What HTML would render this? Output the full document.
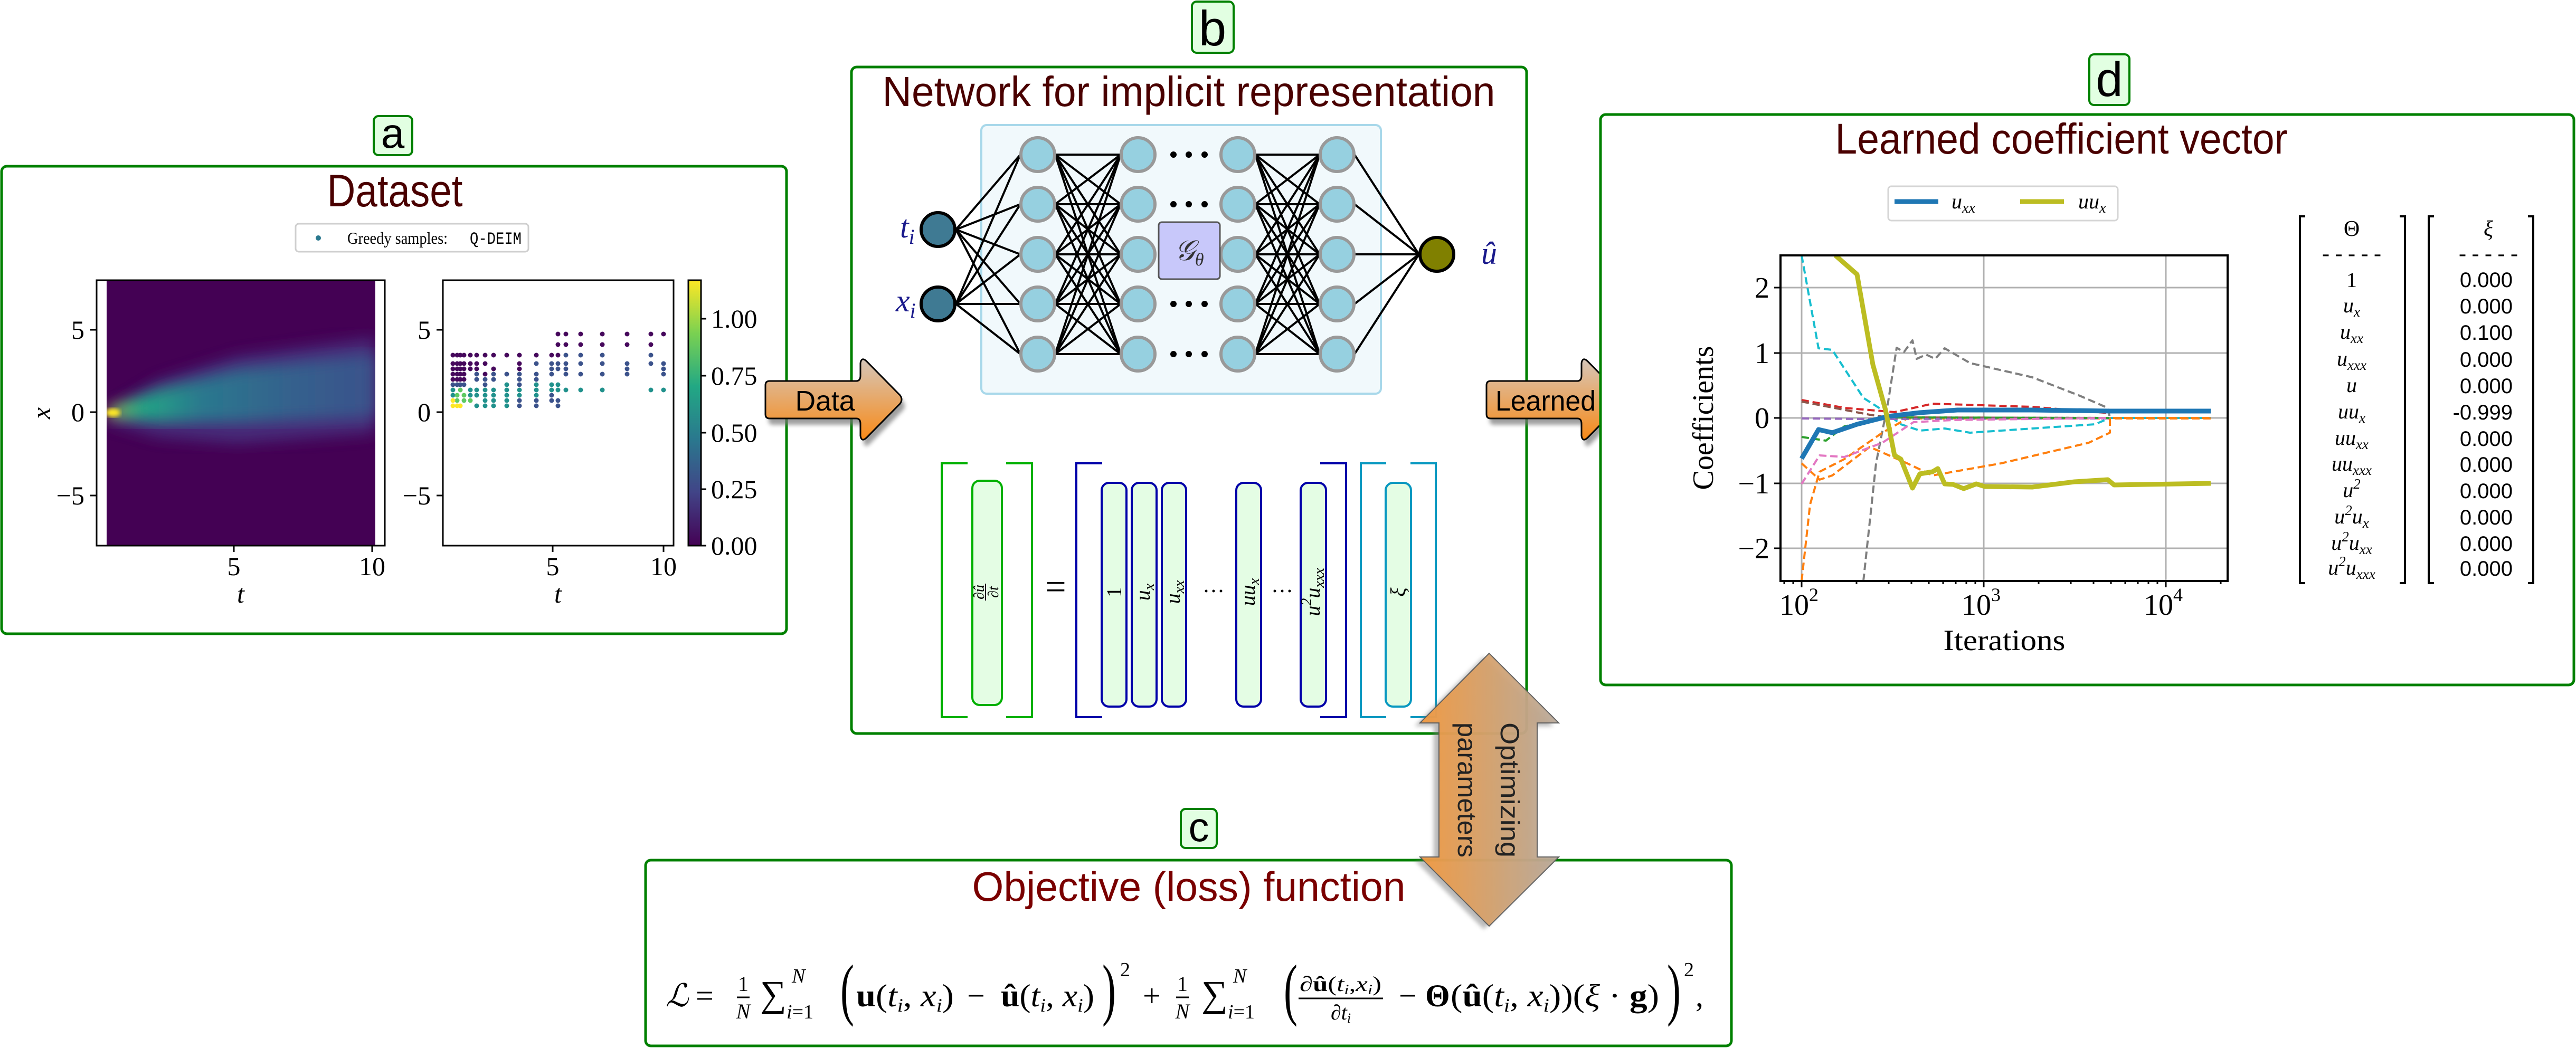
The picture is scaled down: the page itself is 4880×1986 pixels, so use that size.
<!DOCTYPE html>
<html><head><meta charset="utf-8"><style>html,body{margin:0;padding:0;background:#fff}svg{display:block}</style></head>
<body>
<svg xmlns="http://www.w3.org/2000/svg" width="4880" height="1986" viewBox="0 0 4880 1986">
<defs>
<linearGradient id="arr" x1="0" y1="0" x2="0" y2="1"><stop offset="0" stop-color="#d6c6b8"/><stop offset="1" stop-color="#f88a18"/></linearGradient>
<linearGradient id="darr" x1="0" y1="0" x2="1" y2="0"><stop offset="0" stop-color="#f39a40"/><stop offset="1" stop-color="#b8aa9c"/></linearGradient>
<linearGradient id="vir" x1="0" y1="1" x2="0" y2="0"><stop offset="0" stop-color="#440154"/><stop offset="0.2" stop-color="#414487"/><stop offset="0.4" stop-color="#2a788e"/><stop offset="0.6" stop-color="#22a884"/><stop offset="0.8" stop-color="#7ad151"/><stop offset="1" stop-color="#fde725"/></linearGradient>
<linearGradient id="plume" x1="0" y1="0" x2="1" y2="0"><stop offset="0" stop-color="#fde725"/><stop offset="0.03" stop-color="#7ad151"/><stop offset="0.12" stop-color="#22a884"/><stop offset="0.35" stop-color="#2a788e"/><stop offset="0.7" stop-color="#35608d"/><stop offset="1" stop-color="#3b528b"/></linearGradient>
<filter id="blur"><feGaussianBlur stdDeviation="14"/></filter>
<filter id="sh"><feGaussianBlur stdDeviation="4"/></filter>
<clipPath id="hm"><rect x="202" y="531" width="509" height="503"/></clipPath>
<clipPath id="dp"><rect x="3373" y="484" width="847" height="617"/></clipPath>
</defs>

<!-- ===== Panel a ===== -->
<rect x="3" y="315" width="1487" height="886" rx="10" fill="#fff" stroke="#008000" stroke-width="5"/>
<rect x="708" y="220" width="73" height="74" rx="9" fill="#e2ffe2" stroke="#008000" stroke-width="4"/>
<text x="744" y="280" font-family="Liberation Sans, sans-serif" font-size="80" text-anchor="middle">a</text>
<text x="748" y="391" font-family="Liberation Sans, sans-serif" font-size="86" fill="#4a0000" textLength="257" lengthAdjust="spacingAndGlyphs" text-anchor="middle">Dataset</text>
<rect x="560" y="424" width="441" height="53" rx="6" fill="#fff" stroke="#cfcfcf" stroke-width="3"/>
<circle cx="603" cy="451" r="5" fill="#2a788e"/>
<text x="658" y="462" font-family="Liberation Serif, serif" font-size="32" textLength="190" lengthAdjust="spacingAndGlyphs">Greedy samples:</text>
<text x="890" y="462" font-family="Liberation Mono, monospace" font-size="32" textLength="98" lengthAdjust="spacingAndGlyphs">Q-DEIM</text>

<rect x="183" y="531" width="546" height="503" fill="#fff"/>
<rect x="202" y="531" width="509" height="503" fill="#440154"/>
<g clip-path="url(#hm)">
<path d="M204 781 L300 722 L450 675 L711 640 L711 820 L450 840 L300 828 L204 800 Z" fill="#46327e" filter="url(#blur)" opacity="0.9"/>
<path d="M204 776 L300 738 L450 700 L711 670 L711 790 L450 800 L300 800 L204 788 Z" fill="url(#plume)" filter="url(#blur)"/>
<ellipse cx="214" cy="782" rx="14" ry="8" fill="#fde725" filter="url(#sh)"/>
</g>
<rect x="183" y="531" width="546" height="503" fill="none" stroke="#000" stroke-width="3"/>
<g stroke="#000" stroke-width="3"><path d="M171 625H183M171 781H183M171 939H183M443 1034V1046M705 1034V1046"/></g>
<g font-family="Liberation Serif, serif" font-size="50">
<text x="160" y="642" text-anchor="end">5</text><text x="160" y="798" text-anchor="end">0</text><text x="160" y="956" text-anchor="end">−5</text>
<text x="443" y="1090" text-anchor="middle">5</text><text x="705" y="1090" text-anchor="middle">10</text>
<text x="456" y="1142" text-anchor="middle" font-style="italic">t</text>
<text x="95" y="783" text-anchor="middle" font-style="italic" transform="rotate(-90 95 783)">x</text>
</g>

<rect x="839" y="531" width="437" height="503" fill="#fff" stroke="#000" stroke-width="3"/>
<g fill="none" stroke-linecap="round" stroke-width="9">
<path stroke="#46085c" d="M858 673h0M858 689h0M858 699h0M858 709h0M858 719h0M866 673h0M866 689h0M866 699h0M866 709h0M866 719h0M872 673h0M872 689h0M872 699h0M872 709h0M872 719h0M879 673h0M879 689h0M879 699h0M879 709h0M879 719h0M891 673h0M891 689h0M891 699h0M903 673h0M903 689h0M903 699h0M919 673h0M919 689h0M919 709h0M935 673h0M935 699h0M960 673h0M984 673h0M984 689h0M984 699h0M1016 673h0M1045 673h0M1057 633h0M1057 653h0M1057 673h0M1072 633h0M1072 653h0M1100 633h0M1100 653h0M1141 633h0M1141 653h0M1188 633h0M1188 653h0M1233 633h0M1233 653h0M1257 633h0"/>
<path stroke="#3b528b" d="M858 729h0M866 729h0M872 729h0M879 729h0M903 709h0M903 719h0M919 719h0M919 729h0M935 709h0M935 719h0M960 709h0M984 709h0M984 719h0M984 729h0M1016 689h0M1016 709h0M1016 719h0M1045 689h0M1045 699h0M1045 709h0M1057 689h0M1057 699h0M1072 673h0M1072 689h0M1072 699h0M1072 709h0M1100 673h0M1100 689h0M1100 709h0M1141 673h0M1141 689h0M1141 709h0M1188 689h0M1188 699h0M1188 709h0M1233 673h0M1233 689h0M1257 689h0M1257 699h0M1257 709h0M1016 759h0M1016 769h0M984 759h0M984 769h0M1057 759h0M1057 769h0M1045 749h0M1045 759h0"/>
<path stroke="#21918c" d="M891 739h0M891 749h0M903 739h0M903 749h0M919 739h0M919 749h0M919 759h0M935 739h0M935 749h0M935 759h0M960 729h0M960 739h0M960 749h0M984 739h0M984 749h0M1016 729h0M1016 739h0M1016 749h0M1045 729h0M1045 739h0M1057 729h0M1057 739h0M1072 739h0M1100 739h0M1141 739h0M1233 739h0M1257 739h0M960 759h0M960 769h0M935 769h0M919 769h0M903 769h0M858 739h0M858 749h0"/>
<path stroke="#5ec962" d="M866 749h0M866 759h0M872 739h0M879 749h0M891 759h0M879 759h0"/>
<path stroke="#fde725" d="M858 759h0M858 769h0M866 769h0M872 769h0"/>
</g>
<g stroke="#000" stroke-width="3"><path d="M827 625H839M827 781H839M827 939H839M1047 1034V1046M1257 1034V1046"/></g>
<g font-family="Liberation Serif, serif" font-size="50">
<text x="816" y="642" text-anchor="end">5</text><text x="816" y="798" text-anchor="end">0</text><text x="816" y="956" text-anchor="end">−5</text>
<text x="1047" y="1090" text-anchor="middle">5</text><text x="1257" y="1090" text-anchor="middle">10</text>
<text x="1057" y="1142" text-anchor="middle" font-style="italic">t</text>
</g>
<rect x="1304" y="531" width="24" height="503" fill="url(#vir)" stroke="#000" stroke-width="3"/>
<g stroke="#000" stroke-width="3"><path d="M1328 604h10M1328 712h10M1328 820h10M1328 927h10M1328 1034h10"/></g>
<g font-family="Liberation Serif, serif" font-size="50">
<text x="1347" y="621">1.00</text><text x="1347" y="729">0.75</text><text x="1347" y="837">0.50</text><text x="1347" y="944">0.25</text><text x="1347" y="1051">0.00</text>
</g>

<!-- ===== Panel b ===== -->
<rect x="1613" y="127" width="1279" height="1263" rx="10" fill="#fff" stroke="#008000" stroke-width="5"/>
<rect x="2258" y="3" width="79" height="97" rx="9" fill="#e2ffe2" stroke="#008000" stroke-width="4"/>
<text x="2297" y="86" font-family="Liberation Sans, sans-serif" font-size="94" text-anchor="middle">b</text>
<text x="2252" y="201" font-family="Liberation Sans, sans-serif" font-size="80" fill="#4a0000" textLength="1161" lengthAdjust="spacingAndGlyphs" text-anchor="middle">Network for implicit representation</text>
<rect x="1859" y="237" width="757" height="509" rx="10" fill="#f1f9fc" stroke="#a8d8ea" stroke-width="4"/>
<g stroke="#000" stroke-width="4" fill="none">
<path d="M1811 435L1933 293M1811 435L1933 387M1811 435L1933 482M1811 435L1933 576M1811 435L1933 671M1811 576L1933 293M1811 576L1933 387M1811 576L1933 482M1811 576L1933 576M1811 576L1933 671"/>
<path d="M1999 293L2123 293M1999 293L2123 387M1999 293L2123 482M1999 293L2123 576M1999 293L2123 671M1999 387L2123 293M1999 387L2123 387M1999 387L2123 482M1999 387L2123 576M1999 387L2123 671M1999 482L2123 293M1999 482L2123 387M1999 482L2123 482M1999 482L2123 576M1999 482L2123 671M1999 576L2123 293M1999 576L2123 387M1999 576L2123 482M1999 576L2123 576M1999 576L2123 671M1999 671L2123 293M1999 671L2123 387M1999 671L2123 482M1999 671L2123 576M1999 671L2123 671"/>
<path d="M2378 293L2500 293M2378 293L2500 387M2378 293L2500 482M2378 293L2500 576M2378 293L2500 671M2378 387L2500 293M2378 387L2500 387M2378 387L2500 482M2378 387L2500 576M2378 387L2500 671M2378 482L2500 293M2378 482L2500 387M2378 482L2500 482M2378 482L2500 576M2378 482L2500 671M2378 576L2500 293M2378 576L2500 387M2378 576L2500 482M2378 576L2500 576M2378 576L2500 671M2378 671L2500 293M2378 671L2500 387M2378 671L2500 482M2378 671L2500 576M2378 671L2500 671"/>
<path d="M2566 293L2688 482M2566 387L2688 482M2566 482L2688 482M2566 576L2688 482M2566 671L2688 482"/>
</g>
<g fill="#96d0e0" stroke="#999" stroke-width="6">
<circle cx="1966" cy="293" r="32"/><circle cx="1966" cy="387" r="32"/><circle cx="1966" cy="482" r="32"/><circle cx="1966" cy="576" r="32"/><circle cx="1966" cy="671" r="32"/>
<circle cx="2156" cy="293" r="32"/><circle cx="2156" cy="387" r="32"/><circle cx="2156" cy="482" r="32"/><circle cx="2156" cy="576" r="32"/><circle cx="2156" cy="671" r="32"/>
<circle cx="2345" cy="293" r="32"/><circle cx="2345" cy="387" r="32"/><circle cx="2345" cy="482" r="32"/><circle cx="2345" cy="576" r="32"/><circle cx="2345" cy="671" r="32"/>
<circle cx="2533" cy="293" r="32"/><circle cx="2533" cy="387" r="32"/><circle cx="2533" cy="482" r="32"/><circle cx="2533" cy="576" r="32"/><circle cx="2533" cy="671" r="32"/>
</g>
<g fill="#000"><circle cx="2223" cy="293" r="6"/><circle cx="2252" cy="293" r="6"/><circle cx="2282" cy="293" r="6"/><circle cx="2223" cy="387" r="6"/><circle cx="2252" cy="387" r="6"/><circle cx="2282" cy="387" r="6"/><circle cx="2223" cy="576" r="6"/><circle cx="2252" cy="576" r="6"/><circle cx="2282" cy="576" r="6"/><circle cx="2223" cy="671" r="6"/><circle cx="2252" cy="671" r="6"/><circle cx="2282" cy="671" r="6"/></g>
<rect x="2195" y="421" width="116" height="108" rx="6" fill="#c8c8fa" stroke="#555" stroke-width="3"/>
<text x="2253" y="493" font-family="Liberation Serif, serif" font-style="italic" font-size="54" text-anchor="middle" fill="#333">𝒢<tspan font-size="34" dy="10">θ</tspan></text>
<circle cx="1777" cy="435" r="32" fill="#3f7a93" stroke="#000" stroke-width="6"/>
<circle cx="1777" cy="576" r="32" fill="#3f7a93" stroke="#000" stroke-width="6"/>
<circle cx="2722" cy="482" r="32" fill="#808000" stroke="#000" stroke-width="6"/>
<g font-family="Liberation Serif, serif" font-style="italic" font-size="60" fill="#1a1a8c">
<text x="1705" y="450">t<tspan font-size="40" dy="12">i</tspan></text>
<text x="1697" y="590">x<tspan font-size="40" dy="12">i</tspan></text>
<text x="2806" y="500">û</text>
</g>
<g fill="none" stroke-width="4">
<path stroke="#00b000" d="M1833 878H1784V1359H1833M1906 878H1955V1359H1906"/>
<rect x="1842" y="911" width="56" height="425" rx="14" fill="#e4fde4" stroke="#00b000"/>
<path stroke="#0000a8" d="M2088 878H2039V1359H2088M2501 878H2550V1359H2501"/>
<rect x="2087" y="915" width="47" height="424" rx="14" fill="#e4fde4" stroke="#0000a8"/>
<rect x="2144" y="915" width="47" height="424" rx="14" fill="#e4fde4" stroke="#0000a8"/>
<rect x="2201" y="915" width="46" height="424" rx="14" fill="#e4fde4" stroke="#0000a8"/>
<rect x="2342" y="915" width="47" height="424" rx="14" fill="#e4fde4" stroke="#0000a8"/>
<rect x="2464" y="915" width="48" height="424" rx="14" fill="#e4fde4" stroke="#0000a8"/>
<path stroke="#0898c0" d="M2626 878H2578V1359H2626M2672 878H2720V1359H2672"/>
<rect x="2625" y="915" width="48" height="424" rx="14" fill="#e4fde4" stroke="#0898c0"/>
</g>
<g font-family="Liberation Serif, serif" font-size="40" font-style="italic" text-anchor="middle">
<text transform="translate(1864 1122) rotate(-90)" font-size="28">∂û</text>
<line x1="1867" y1="1106" x2="1867" y2="1138" stroke="#000" stroke-width="2"/>
<text transform="translate(1891 1122) rotate(-90)" font-size="28">∂t</text>
<text transform="translate(2124 1122) rotate(-90)" font-style="normal">1</text>
<text transform="translate(2178 1122) rotate(-90)">u<tspan font-size="28" dy="8">x</tspan></text>
<text transform="translate(2235 1122) rotate(-90)">u<tspan font-size="28" dy="8">xx</tspan></text>
<text transform="translate(2377 1122) rotate(-90)">uu<tspan font-size="28" dy="8">x</tspan></text>
<text transform="translate(2500 1122) rotate(-90)">u<tspan font-size="28" dy="-16">2</tspan><tspan dy="16">u</tspan><tspan font-size="28" dy="8">xxx</tspan></text>
<text transform="translate(2662 1122) rotate(-90)">ξ</text>
</g>
<text x="2000" y="1135" font-family="Liberation Serif, serif" font-size="70" text-anchor="middle">=</text>
<g fill="#000"><circle cx="2285" cy="1120" r="2.5"/><circle cx="2299" cy="1120" r="2.5"/><circle cx="2313" cy="1120" r="2.5"/><circle cx="2415" cy="1120" r="2.5"/><circle cx="2429" cy="1120" r="2.5"/><circle cx="2443" cy="1120" r="2.5"/></g>

<g>
<path transform="translate(6 12)" fill="#777" opacity="0.7" filter="url(#sh)" d="M1458 722L1622 722Q1630 722 1630 712L1630 688Q1632 676 1641 684L1705 749Q1711 757 1705 765L1641 830Q1632 838 1630 826L1630 803Q1630 793 1622 793L1458 793Q1450 793 1450 785L1450 730Q1450 722 1458 722Z"/>
<path fill="url(#arr)" stroke="#000" stroke-width="3" d="M1458 722L1622 722Q1630 722 1630 712L1630 688Q1632 676 1641 684L1705 749Q1711 757 1705 765L1641 830Q1632 838 1630 826L1630 803Q1630 793 1622 793L1458 793Q1450 793 1450 785L1450 730Q1450 722 1458 722Z"/>
</g>
<text x="1563" y="778" font-family="Liberation Sans, sans-serif" font-size="54" text-anchor="middle" textLength="113" lengthAdjust="spacingAndGlyphs">Data</text>
<g transform="translate(1366 0)">
<path transform="translate(6 12)" fill="#777" opacity="0.7" filter="url(#sh)" d="M1458 722L1622 722Q1630 722 1630 712L1630 688Q1632 676 1641 684L1705 749Q1711 757 1705 765L1641 830Q1632 838 1630 826L1630 803Q1630 793 1622 793L1458 793Q1450 793 1450 785L1450 730Q1450 722 1458 722Z"/>
<path fill="url(#arr)" stroke="#000" stroke-width="3" d="M1458 722L1622 722Q1630 722 1630 712L1630 688Q1632 676 1641 684L1705 749Q1711 757 1705 765L1641 830Q1632 838 1630 826L1630 803Q1630 793 1622 793L1458 793Q1450 793 1450 785L1450 730Q1450 722 1458 722Z"/>
</g>
<text x="2833" y="778" font-family="Liberation Sans, sans-serif" font-size="54" textLength="190" lengthAdjust="spacingAndGlyphs">Learned</text>

<!-- ===== Panel d ===== -->
<rect x="3032" y="217" width="1844" height="1081" rx="10" fill="#fff" stroke="#008000" stroke-width="5"/>
<rect x="3958" y="103" width="76" height="96" rx="9" fill="#e2ffe2" stroke="#008000" stroke-width="4"/>
<text x="3996" y="182" font-family="Liberation Sans, sans-serif" font-size="92" text-anchor="middle">d</text>
<text x="3905" y="291" font-family="Liberation Sans, sans-serif" font-size="82" fill="#4a0000" textLength="857" lengthAdjust="spacingAndGlyphs" text-anchor="middle">Learned coefficient vector</text>
<rect x="3577" y="353" width="435" height="65" rx="6" fill="#fff" stroke="#d5d5d5" stroke-width="3"/>
<line x1="3589" y1="382" x2="3672" y2="382" stroke="#1f77b4" stroke-width="9"/>
<line x1="3827" y1="382" x2="3910" y2="382" stroke="#bcbd22" stroke-width="9"/>
<g font-family="Liberation Serif, serif" font-style="italic" font-size="40">
<text x="3697" y="395">u<tspan font-size="28" dy="8">xx</tspan></text>
<text x="3937" y="395">uu<tspan font-size="28" dy="8">x</tspan></text>
</g>
<g stroke="#b0b0b0" stroke-width="3"><path d="M3373 545H4220M3373 669H4220M3373 792H4220M3373 916H4220M3373 1039H4220M3413 484V1101M3758 484V1101M4103 484V1101"/></g>
<g clip-path="url(#dp)" fill="none" stroke-linejoin="round">
<g stroke-width="4" stroke-dasharray="14 7">
<polyline stroke="#7f7f7f" points="3530,1101 3554,878 3577,761 3593,659 3607,667 3623,645 3631,680 3649,672 3666,680 3684,660 3732,688 3850,715 3940,750 3993,773 3997,792 4188,792"/>
<polyline stroke="#17becf" points="3413,484 3445,660 3471,663 3530,754 3566,777 3601,804 3637,816 3684,812 3732,820 3969,804 3997,792 4188,792"/>
<polyline stroke="#ff7f0e" points="3413,1101 3429,956 3447,894 3494,870 3566,820 3613,793 3997,793 4188,793"/>
<polyline stroke="#ff7f0e" points="3413,878 3447,909 3471,901 3542,847 3613,878 3661,901 3791,878 3957,839 3997,820 3997,792 4188,792"/>
<polyline stroke="#d62728" points="3413,758 3494,773 3589,781 3661,765 3850,771 3997,783"/>
<polyline stroke="#8c564b" points="3413,761 3542,786 3577,791 3997,792"/>
<polyline stroke="#9467bd" points="3413,793 3530,794 3997,793"/>
<polyline stroke="#2ca02c" points="3413,828 3459,835 3494,808 3577,791 3997,792"/>
<polyline stroke="#e377c2" points="3413,917 3447,863 3494,866 3566,839 3625,800 3700,796 3997,792"/>
</g>
<polyline stroke="#1f77b4" stroke-width="9" points="3413,869 3445,814 3471,820 3518,804 3577,789 3637,782 3708,777 3850,777 3997,779 4188,779"/>
<polyline stroke="#bcbd22" stroke-width="9" points="3477,484 3518,520 3548,691 3572,777 3589,863 3601,870 3623,925 3637,898 3661,894 3671,888 3684,917 3700,918 3720,926 3744,917 3760,922 3850,923 3930,913 3993,909 4005,919 4188,916"/>
</g>
<rect x="3373" y="484" width="847" height="617" fill="none" stroke="#000" stroke-width="4"/>
<g stroke="#000" stroke-width="3"><path d="M3361 545h12M3361 669h12M3361 792h12M3361 916h12M3361 1039h12M3413 1101v12M3758 1101v12M4103 1101v12M3380 1101v6M3397 1101v6M3517 1101v6M3578 1101v6M3621 1101v6M3654 1101v6M3681 1101v6M3705 1101v6M3725 1101v6M3742 1101v6M3862 1101v6M3923 1101v6M3966 1101v6M3999 1101v6M4026 1101v6M4050 1101v6M4070 1101v6M4087 1101v6M4207 1101v6"/></g>
<g font-family="Liberation Serif, serif" font-size="56">
<text x="3352" y="564" text-anchor="end">2</text><text x="3352" y="688" text-anchor="end">1</text><text x="3352" y="811" text-anchor="end">0</text><text x="3352" y="935" text-anchor="end">−1</text><text x="3352" y="1058" text-anchor="end">−2</text>
<text x="3408" y="1165" text-anchor="middle">10<tspan font-size="36" dy="-26">2</tspan></text>
<text x="3753" y="1165" text-anchor="middle">10<tspan font-size="36" dy="-26">3</tspan></text>
<text x="4098" y="1165" text-anchor="middle">10<tspan font-size="36" dy="-26">4</tspan></text>
<text x="3797" y="1232" text-anchor="middle" textLength="231" lengthAdjust="spacingAndGlyphs">Iterations</text>
<text x="0" y="0" text-anchor="middle" textLength="273" lengthAdjust="spacingAndGlyphs" transform="translate(3245 792) rotate(-90)">Coefficients</text>
</g>
<g fill="none" stroke="#000" stroke-width="4"><path d="M4367 410H4357V1105H4367M4546 410H4556V1105H4546M4611 410H4601V1105H4611M4789 410H4799V1105H4789"/></g>
<g font-family="Liberation Serif, serif" font-size="42" text-anchor="middle">
<text x="4455" y="447">Θ</text><text x="4714" y="447" font-style="italic">ξ</text>
<text x="4455" y="494">- - - - -</text><text x="4714" y="494">- - - - -</text>
</g>
<g font-family="Liberation Serif, serif" font-style="italic" font-size="40" text-anchor="middle">
<text x="4455" y="544" font-style="normal">1</text>
<text x="4455" y="592">u<tspan font-size="27" dy="8">x</tspan></text>
<text x="4455" y="642">u<tspan font-size="27" dy="8">xx</tspan></text>
<text x="4455" y="693">u<tspan font-size="27" dy="8">xxx</tspan></text>
<text x="4455" y="743">u</text>
<text x="4455" y="793">uu<tspan font-size="27" dy="8">x</tspan></text>
<text x="4455" y="843">uu<tspan font-size="27" dy="8">xx</tspan></text>
<text x="4455" y="892">uu<tspan font-size="27" dy="8">xxx</tspan></text>
<text x="4455" y="942">u<tspan font-size="27" dy="-16">2</tspan></text>
<text x="4455" y="992">u<tspan font-size="27" dy="-16">2</tspan><tspan dy="16">u</tspan><tspan font-size="27" dy="8">x</tspan></text>
<text x="4455" y="1042">u<tspan font-size="27" dy="-16">2</tspan><tspan dy="16">u</tspan><tspan font-size="27" dy="8">xx</tspan></text>
<text x="4455" y="1089">u<tspan font-size="27" dy="-16">2</tspan><tspan dy="16">u</tspan><tspan font-size="27" dy="8">xxx</tspan></text>
</g>
<g font-family="Liberation Sans, sans-serif" font-size="40" text-anchor="end">
<text x="4760" y="544">0.000</text><text x="4760" y="594">0.000</text><text x="4760" y="644">0.100</text><text x="4760" y="695">0.000</text><text x="4760" y="745">0.000</text><text x="4760" y="795">-0.999</text><text x="4760" y="845">0.000</text><text x="4760" y="894">0.000</text><text x="4760" y="944">0.000</text><text x="4760" y="994">0.000</text><text x="4760" y="1044">0.000</text><text x="4760" y="1091">0.000</text>
</g>

<!-- ===== Panel c ===== -->
<rect x="1223" y="1630" width="2057" height="352" rx="10" fill="#fff" stroke="#008000" stroke-width="5"/>
<rect x="2237" y="1533" width="68" height="74" rx="9" fill="#e2ffe2" stroke="#008000" stroke-width="4"/>
<text x="2271" y="1594" font-family="Liberation Sans, sans-serif" font-size="78" text-anchor="middle">c</text>
<text x="2252" y="1707" font-family="Liberation Sans, sans-serif" font-size="78" fill="#7a0000" textLength="821" lengthAdjust="spacingAndGlyphs" text-anchor="middle">Objective (loss) function</text>
<g font-family="Liberation Serif, serif" font-size="60">
<text x="1261" y="1907" font-style="italic">ℒ</text>
<text x="1318" y="1907">=</text>
<text x="1408" y="1878" font-size="40" text-anchor="middle">1</text>
<line x1="1396" y1="1890" x2="1420" y2="1890" stroke="#000" stroke-width="3"/>
<text x="1408" y="1930" font-size="40" font-style="italic" text-anchor="middle">N</text>
<text x="1440" y="1907" font-size="70">∑</text>
<text x="1500" y="1862" font-size="38" font-style="italic">N</text>
<text x="1490" y="1930" font-size="38"><tspan font-style="italic">i</tspan>=1</text>
<text x="1592" y="1918" font-size="130" transform="translate(1592 1918) scale(0.6 1) translate(-1592 -1918)">(</text>
<text x="1622" y="1907" textLength="185" lengthAdjust="spacingAndGlyphs"><tspan font-weight="bold">u</tspan>(<tspan font-style="italic">t</tspan><tspan font-size="36" font-style="italic" dy="10">i</tspan><tspan dy="-10">, </tspan><tspan font-style="italic">x</tspan><tspan font-size="36" font-style="italic" dy="10">i</tspan><tspan dy="-10">)</tspan></text>
<text x="1832" y="1907">−</text>
<text x="1896" y="1907" textLength="177" lengthAdjust="spacingAndGlyphs"><tspan font-weight="bold">û</tspan>(<tspan font-style="italic">t</tspan><tspan font-size="36" font-style="italic" dy="10">i</tspan><tspan dy="-10">, </tspan><tspan font-style="italic">x</tspan><tspan font-size="36" font-style="italic" dy="10">i</tspan><tspan dy="-10">)</tspan></text>
<text x="2088" y="1918" font-size="130" transform="translate(2088 1918) scale(0.6 1) translate(-2088 -1918)">)</text>
<text x="2122" y="1850" font-size="38">2</text>
<text x="2165" y="1907">+</text>
<text x="2240" y="1878" font-size="40" text-anchor="middle">1</text>
<line x1="2228" y1="1890" x2="2252" y2="1890" stroke="#000" stroke-width="3"/>
<text x="2240" y="1930" font-size="40" font-style="italic" text-anchor="middle">N</text>
<text x="2276" y="1907" font-size="70">∑</text>
<text x="2336" y="1862" font-size="38" font-style="italic">N</text>
<text x="2326" y="1930" font-size="38"><tspan font-style="italic">i</tspan>=1</text>
<text x="2432" y="1918" font-size="130" transform="translate(2432 1918) scale(0.6 1) translate(-2432 -1918)">(</text>
<text x="2462" y="1878" font-size="40" textLength="155" lengthAdjust="spacingAndGlyphs">∂<tspan font-weight="bold">û</tspan>(<tspan font-style="italic">t</tspan><tspan font-size="26" font-style="italic" dy="6">i</tspan><tspan dy="-6">,</tspan><tspan font-style="italic">x</tspan><tspan font-size="26" font-style="italic" dy="6">i</tspan><tspan dy="-6">)</tspan></text>
<line x1="2460" y1="1892" x2="2620" y2="1892" stroke="#000" stroke-width="3"/>
<text x="2540" y="1932" font-size="40" text-anchor="middle">∂<tspan font-style="italic">t</tspan><tspan font-size="26" font-style="italic" dy="6">i</tspan></text>
<text x="2650" y="1907">−</text>
<text x="2700" y="1907" font-weight="bold">Θ</text>
<text x="2748" y="1907" textLength="395" lengthAdjust="spacingAndGlyphs">(<tspan font-weight="bold">û</tspan>(<tspan font-style="italic">t</tspan><tspan font-size="36" font-style="italic" dy="10">i</tspan><tspan dy="-10">, </tspan><tspan font-style="italic">x</tspan><tspan font-size="36" font-style="italic" dy="10">i</tspan><tspan dy="-10">))(</tspan><tspan font-style="italic">ξ</tspan> · <tspan font-weight="bold">g</tspan>)</text>
<text x="3158" y="1918" font-size="130" transform="translate(3158 1918) scale(0.6 1) translate(-3158 -1918)">)</text>
<text x="3190" y="1850" font-size="38">2</text>
<text x="3212" y="1907">,</text>
</g>

<path transform="translate(-10 6)" fill="#777" opacity="0.5" filter="url(#sh)" d="M2821 1238L2953 1370L2912 1370L2912 1624L2953 1624L2821 1755L2690 1624L2726 1624L2726 1370L2690 1370Z"/>
<path fill="url(#darr)" opacity="0.95" stroke="#5a5a5a" stroke-width="2" d="M2821 1238L2953 1370L2912 1370L2912 1624L2953 1624L2821 1755L2690 1624L2726 1624L2726 1370L2690 1370Z"/>
<g font-family="Liberation Sans, sans-serif" font-size="50" fill="#222" text-anchor="middle">
<text transform="translate(2843 1497) rotate(90)" textLength="256" lengthAdjust="spacingAndGlyphs">Optimizing</text>
<text transform="translate(2762 1497) rotate(90)" textLength="256" lengthAdjust="spacingAndGlyphs">parameters</text>
</g>
</svg>
</body></html>
